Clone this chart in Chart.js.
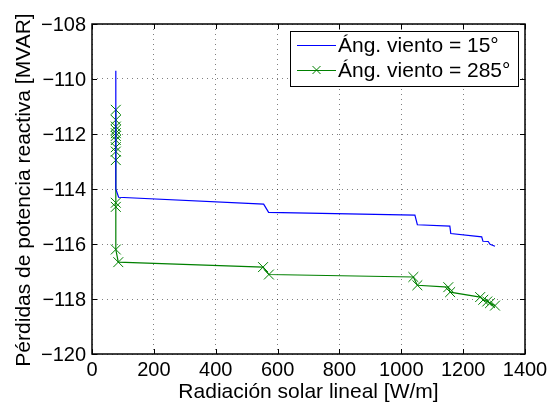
<!DOCTYPE html>
<html>
<head>
<meta charset="utf-8">
<script src="https://cdn.jsdelivr.net/npm/chart.js"></script>
<style>
  html, body { margin: 0; padding: 0; background: #fff; }
  #wrap { width: 550px; height: 407px; }
</style>
</head>
<body>
<div id="wrap"><canvas id="chart" width="550" height="407"></canvas></div>
<script>
// Radiación solar lineal [W/m] y pérdidas [MVAR] para cada ángulo de viento
const radiacion15 = [77, 77, 86, 555, 571, 1044, 1052, 1157, 1160, 1260, 1264, 1281, 1287, 1303];
const perdidas15 = [-109.7, -114.0, -114.3, -114.55, -114.85, -114.95, -115.3, -115.35, -115.62, -115.74, -115.9, -115.91, -116.01, -116.08];

const radiacion285 = [77, 77, 77, 77, 77, 77, 77, 77, 77, 77, 77, 77, 77, 85, 553, 572, 1039, 1052, 1152, 1158, 1255, 1265, 1278, 1287, 1303];
const perdidas285 = [-111.12, -111.49, -111.73, -111.85, -111.97, -112.07, -112.22, -112.48, -112.64, -112.95, -114.5, -114.65, -116.2, -116.66, -116.84, -117.11, -117.2, -117.5, -117.57, -117.75, -117.93, -118.03, -118.09, -118.15, -118.24];

const etiquetas = ['Áng. viento = 15°', 'Áng. viento = 285°'];
const xTicks = [0, 200, 400, 600, 800, 1000, 1200, 1400];
const yTicks = [-120, -118, -116, -114, -112, -110, -108];
const tituloX = 'Radiación solar lineal [W/m]';
const tituloY = 'Pérdidas de potencia reactiva [MVAR]';

const FONT = '"Liberation Sans", Arial, Helvetica, sans-serif';

function puntos(xs, ys) {
  return xs.map((x, i) => ({ x: x, y: ys[i] }));
}

function texto(ctx, str, x, y, size, align, baseline, rot) {
  ctx.save();
  ctx.translate(x, y);
  if (rot) ctx.rotate(rot);
  ctx.font = size + 'px ' + FONT;
  ctx.fillStyle = '#000';
  ctx.textAlign = align;
  ctx.textBaseline = baseline;
  ctx.fillText(str, 0, 0);
  ctx.restore();
}

// caja de ejes, marcas hacia dentro, etiquetas y títulos
const cajaEjes = {
  id: 'cajaEjes',
  afterDatasetsDraw(chart) {
    const { ctx, chartArea: a, scales } = chart;
    const len = 5;
    ctx.save();
    ctx.strokeStyle = '#000';
    ctx.lineWidth = 1;
    ctx.beginPath();
    xTicks.forEach(v => {
      const px = Math.round(scales.x.getPixelForValue(v)) + 0.5;
      ctx.moveTo(px, a.bottom); ctx.lineTo(px, a.bottom - len);
      ctx.moveTo(px, a.top); ctx.lineTo(px, a.top + len);
    });
    yTicks.forEach(v => {
      const py = Math.round(scales.y.getPixelForValue(v)) + 0.5;
      ctx.moveTo(a.left, py); ctx.lineTo(a.left + len, py);
      ctx.moveTo(a.right, py); ctx.lineTo(a.right - len, py);
    });
    ctx.stroke();
    ctx.lineWidth = 1.5;
    ctx.strokeRect(Math.round(a.left), Math.round(a.top),
      Math.round(a.right - a.left), Math.round(a.bottom - a.top));
    ctx.restore();

    xTicks.forEach(v => {
      texto(ctx, String(v), scales.x.getPixelForValue(v), 376, 20, 'center', 'alphabetic');
    });
    yTicks.forEach(v => {
      texto(ctx, String(v).replace('-', '\u2212'), a.left - 6, scales.y.getPixelForValue(v) + 1, 20, 'right', 'middle');
    });
    texto(ctx, tituloX, (a.left + a.right) / 2, 398, 21, 'center', 'alphabetic');
    texto(ctx, tituloY, 30, 190, 21, 'center', 'alphabetic', -Math.PI / 2);
  }
};

// leyenda en recuadro, esquina superior derecha
const leyenda = {
  id: 'leyenda',
  afterDraw(chart) {
    const { ctx } = chart;
    const x0 = 290, y0 = 31, w = 228, h = 55;
    ctx.save();
    ctx.fillStyle = '#fff';
    ctx.fillRect(x0, y0, w, h);
    ctx.strokeStyle = '#000';
    ctx.lineWidth = 1;
    ctx.strokeRect(x0 + 0.5, y0 + 0.5, w, h);
    chart.data.datasets.forEach((ds, i) => {
      const cy = y0 + 14 + i * 25;
      ctx.strokeStyle = ds.borderColor;
      ctx.lineWidth = 1;
      ctx.beginPath();
      ctx.moveTo(x0 + 7, cy + 0.5);
      ctx.lineTo(x0 + 46, cy + 0.5);
      ctx.stroke();
      if (ds.pointRadius > 0) {
        const cx = x0 + 26.5, r = 4;
        ctx.beginPath();
        ctx.moveTo(cx - r, cy - r); ctx.lineTo(cx + r, cy + r);
        ctx.moveTo(cx - r, cy + r); ctx.lineTo(cx + r, cy - r);
        ctx.stroke();
      }
      texto(ctx, ds.label, x0 + 48, cy + 1, 21, 'left', 'middle');
    });
    ctx.restore();
  }
};

new Chart(document.getElementById('chart'), {
  type: 'line',
  data: {
    datasets: [
      {
        label: etiquetas[0],
        data: puntos(radiacion15, perdidas15),
        borderColor: '#0000ff',
        borderWidth: 1.2,
        pointRadius: 0,
        tension: 0
      },
      {
        label: etiquetas[1],
        data: puntos(radiacion285, perdidas285),
        borderColor: '#008000',
        borderWidth: 1.2,
        pointStyle: 'crossRot',
        pointRadius: 7,
        pointBorderWidth: 1,
        pointBorderColor: '#008000',
        tension: 0
      }
    ]
  },
  options: {
    responsive: false,
    animation: false,
    layout: { padding: { top: 24, right: 25, left: 0, bottom: 0 } },
    plugins: {
      legend: { display: false },
      tooltip: { enabled: false }
    },
    scales: {
      x: {
        type: 'linear',
        min: 0, max: 1400,
        afterBuildTicks: s => { s.ticks = xTicks.map(v => ({ value: v })); },
        afterFit: s => { s.height = 53; },
        grid: { color: 'rgba(0,0,0,0.5)', drawTicks: false, lineWidth: 1 },
        border: { display: false, dash: [1, 4] },
        ticks: { display: false }
      },
      y: {
        min: -120, max: -108,
        afterBuildTicks: s => { s.ticks = yTicks.map(v => ({ value: v })); },
        afterFit: s => { s.width = 92; },
        grid: { color: 'rgba(0,0,0,0.5)', drawTicks: false, lineWidth: 1 },
        border: { display: false, dash: [1, 4] },
        ticks: { display: false }
      }
    }
  },
  plugins: [cajaEjes, leyenda]
});
</script>
</body>
</html>
